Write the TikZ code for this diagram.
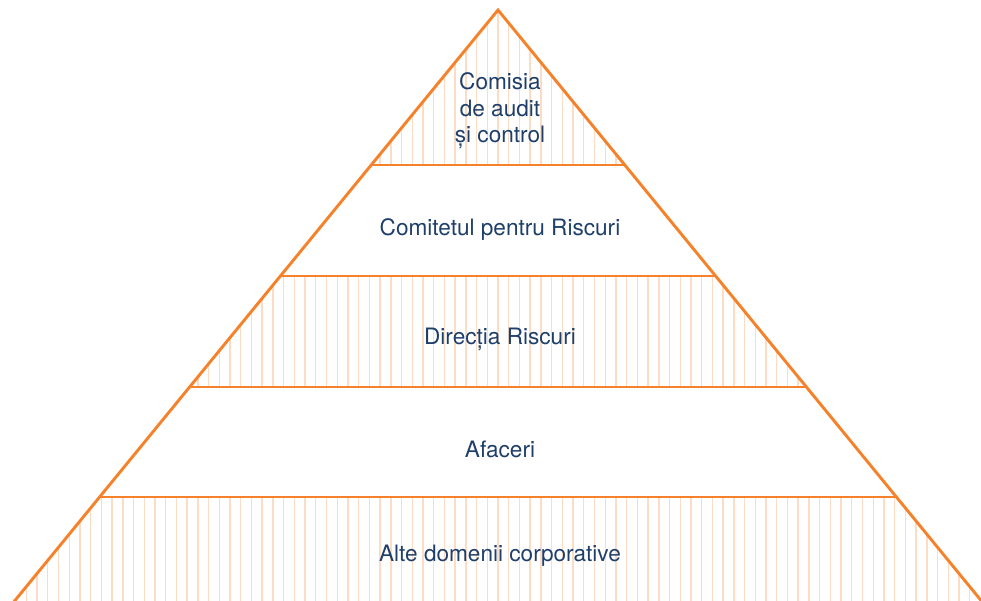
\documentclass[tikz,border=0pt]{standalone}
\usepackage{fontspec}
\setmainfont{TeX Gyre Heros}
\definecolor{pyrorange}{HTML}{F5822A}
\definecolor{hatchorange}{HTML}{FCDCC4}
\definecolor{labelblue}{HTML}{1F3F6B}
\tikzset{
  edge/.style={draw=pyrorange, line width=2.9pt, line join=miter},
  hatch/.style={draw=hatchorange, line width=1.4pt},
  lbl/.style={text=labelblue, font=\fontsize{22.6}{26.5}\selectfont, align=center, inner sep=0pt}
}
\begin{document}
\begin{tikzpicture}[x=1pt, y=-1pt]

  % page frame
  \useasboundingbox (0,0) rectangle (981,601);
  \clip (0,0) rectangle (981,601);

  % corners of the pyramid
  \coordinate (top) at (498,10);
  \coordinate (l1) at (371.2,165);
  \coordinate (r1) at (624.8,165);
  \coordinate (l2) at (280.4,276);
  \coordinate (r2) at (715.6,276);
  \coordinate (l3) at (189.6,387);
  \coordinate (r3) at (806.4,387);
  \coordinate (l4) at (99.6,497);
  \coordinate (r4) at (896.4,497);
  \coordinate (bl) at (-1,620);
  \coordinate (br) at (997,620);

  % hatched bands
  \foreach \band in {{(top) -- (r1) -- (l1) -- cycle},
                     {(l2) -- (r2) -- (r3) -- (l3) -- cycle},
                     {(l4) -- (r4) -- (br) -- (bl) -- cycle}} {
    \begin{scope}
      \clip \band;
      \foreach \i in {-47,...,47}
        \draw[hatch] ({498+10.72*\i},0) -- ({498+10.72*\i},620);
    \end{scope}
  }

  % outline and level lines
  \draw[edge] (bl) -- (top) -- (br);
  \draw[edge] (l1) -- (r1);
  \draw[edge] (l2) -- (r2);
  \draw[edge] (l3) -- (r3);
  \draw[edge] (l4) -- (r4);

  % labels
  \node[lbl] (audit) at (500,111) {Comisia\\de audit\\și control};
  \node[lbl] (comitet) at (500,230) {Comitetul pentru Riscuri};
  \node[lbl] (directia) at (500,339) {Direcția Riscuri};
  \node[lbl] (afaceri) at (500,449) {Afaceri};
  \node[lbl] (alte) at (500,556) {Alte domenii corporative};

\end{tikzpicture}
\end{document}
